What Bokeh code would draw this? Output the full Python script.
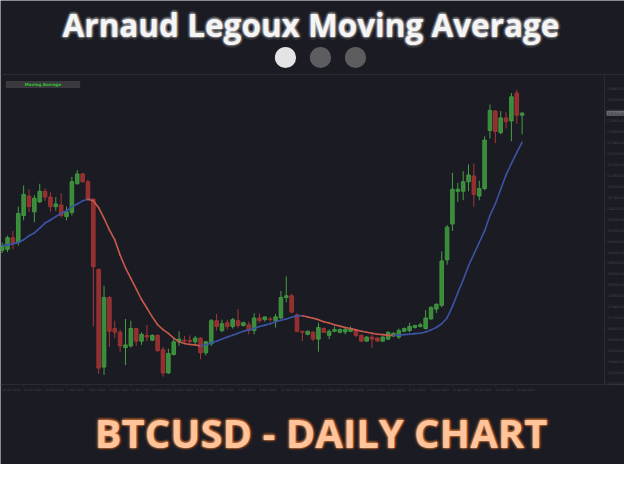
import numpy as np
import pandas as pd
from bokeh.plotting import figure
from bokeh.models import Range1d, Label
from bokeh.embed import file_html
from bokeh.resources import INLINE
from bokeh.core.properties import value

# ---------------- data ----------------
title_text = "Arnaud Legoux Moving Average"
subtitle_text = "BTCUSD - DAILY CHART"
indicator_name = "Moving Average"
start_date = "2022-10-22"

opens = [19190, 19220, 19560, 19420, 20210, 20780, 20320, 20610, 20920, 20750,
         20470, 20520, 20180, 20300, 21140, 21430, 21200, 20690, 18630, 15770,
         17810, 16900, 16790, 16340, 16390, 16900, 16530, 16700, 16560, 16700,
         16280, 15600, 16140, 16510, 16560, 16550, 16510, 16620, 16190, 16450,
         17130, 16840, 17070, 16960, 17130, 16990, 17010, 16840, 17210, 17160,
         17180, 17130, 17210, 17810, 17860, 17300, 16820, 16730, 16790, 16590,
         16900, 16700, 16820, 16790, 16800, 16820, 16840, 16700, 16530, 16650,
         16620, 16530, 16590, 16680, 16650, 16820, 16840, 16930, 16960, 16900,
         17180, 17470, 17580, 18910, 19960, 20920, 20920, 21200, 21370, 20780,
         21000, 22700, 23270, 22640, 23070, 22980, 23800, 23150]
highs = [19420, 19620, 19760, 20470, 21090, 20980, 20810, 21140, 21000, 20890,
         20750, 20860, 20470, 21340, 21540, 21460, 21260, 20720, 18660, 18150,
         17850, 17130, 16870, 17180, 17130, 16920, 16790, 17010, 16730, 16730,
         16360, 16310, 16620, 16820, 16680, 16700, 16680, 16640, 16530, 17180,
         17330, 17160, 17160, 17210, 17470, 17100, 17100, 17350, 17350, 17250,
         17240, 17330, 18000, 18430, 17920, 17350, 16830, 16840, 16820, 17070,
         16930, 16870, 16960, 16900, 16930, 16960, 16870, 16730, 16680, 16730,
         16650, 16680, 16820, 16790, 16900, 16930, 17070, 17010, 17070, 17440,
         17550, 17640, 19160, 19930, 21460, 21170, 21510, 21710, 21740, 21230,
         22530, 23460, 23300, 23270, 23240, 23800, 23890, 23240]
lows = [19110, 19140, 19220, 19330, 20070, 20320, 20010, 20580, 20640, 20320,
        20350, 20150, 20070, 20210, 21120, 21170, 20640, 16960, 15570, 15540,
        16360, 16620, 16220, 15830, 16340, 16390, 16420, 16530, 16530, 16220,
        15490, 15570, 16110, 16390, 16480, 16450, 16450, 16000, 16110, 16390,
        16840, 16790, 16870, 16900, 16930, 16960, 16730, 16730, 17070, 17100,
        17100, 16930, 17180, 17670, 17350, 16790, 16530, 16700, 16530, 16220,
        16770, 16590, 16790, 16760, 16730, 16790, 16650, 16510, 16510, 16340,
        16510, 16510, 16560, 16650, 16590, 16790, 16790, 16900, 16930, 16870,
        17160, 17350, 17520, 18770, 19760, 20610, 20660, 20920, 20470, 20660,
        20950, 22470, 22330, 22590, 22760, 22390, 22900, 22590]
closes = [19330, 19560, 19420, 20270, 20830, 20470, 20720, 20920, 20750, 20470,
          20550, 20210, 20320, 21200, 21430, 21200, 20690, 18710, 15740, 17810,
          16820, 16790, 16390, 16420, 16900, 16530, 16730, 16650, 16700, 16250,
          15600, 16170, 16510, 16590, 16530, 16520, 16620, 16190, 16510, 17130,
          16960, 17040, 16960, 17160, 16990, 17070, 16840, 17210, 17130, 17240,
          17160, 17240, 17810, 17860, 17380, 16820, 16790, 16820, 16590, 16930,
          16790, 16820, 16870, 16870, 16880, 16900, 16700, 16530, 16650, 16590,
          16530, 16650, 16790, 16760, 16840, 16900, 16960, 16990, 17010, 17210,
          17520, 17610, 18880, 19870, 20980, 20980, 21200, 21400, 20830, 21000,
          22420, 23290, 22670, 23070, 22960, 23690, 23150, 23210]
alma = [19330, 19350, 19380, 19420, 19500, 19620, 19700, 19840, 19990, 20080,
        20180, 20270, 20350, 20470, 20550, 20640, 20690, 20640, 20440, 20130,
        19790, 19500, 19050, 18680, 18370, 18060, 17750, 17500, 17240, 17010,
        16870, 16760, 16620, 16510, 16460, 16430, 16420, 16390, 16420, 16480,
        16530, 16590, 16650, 16700, 16760, 16820, 16860, 16900, 16960, 17000,
        17040, 17100, 17140, 17180, 17230, 17270, 17275, 17240, 17200, 17160,
        17100, 17060, 17010, 16970, 16930, 16900, 16860, 16820, 16790, 16760,
        16730, 16720, 16700, 16695, 16705, 16720, 16730, 16750, 16760, 16800,
        16860, 16930, 17040, 17210, 17550, 17950, 18320, 18740, 19080, 19420,
        19760, 20210, 20550, 20980, 21400, 21740, 22050, 22360]
price_ticks = [15300, 15620, 15940, 16260, 16580, 16900, 17220, 17540, 17860,
               18180, 18500, 18820, 19140, 19460, 19780, 20100, 20420, 20740,
               21060, 21380, 21700, 22020, 22340, 22660, 22980, 23300, 23620, 23940]
date_tick_step = 4
dot_colors = ["#e4e4e4", "#5d5d5f", "#5d5d5f"]

# ---------------- layout constants (pixels) ----------------
W, H = 624, 464
PANE_TOP, PANE_BOTTOM, PANE_RIGHT = 74, 384, 604
PRICE_TOP, PRICE_BOTTOM = 24342, 15260
FIRST_BAR_PX, PX_PER_BAR = 1.7, 5.36
MID = 0.37   # baseline sits this many font-sizes below a "middle" anchor

BG = "#1b1b23"
AXC = "#2b2b35"
LBL = "#45454f"
UP, DN = "#3a8c3a", "#93302f"
UP_L, DN_L = "#45a045", "#a83636"
ALMA_UP, ALMA_DN = "#3b54a6", "#c85a4c"

idx = np.arange(len(closes))
dates = pd.date_range(start_date, periods=len(closes), freq="D")
date_ticks = list(range(0, len(closes), date_tick_step))
date_text = [f"{dates[i].day} {dates[i].strftime('%b %Y')}" for i in date_ticks]

# data ranges laid over the whole canvas
ppp = (PRICE_TOP - PRICE_BOTTOM) / (PANE_BOTTOM - PANE_TOP)
y_start = PRICE_BOTTOM - (H - PANE_BOTTOM) * ppp
y_end = PRICE_TOP + PANE_TOP * ppp
x_start = -FIRST_BAR_PX / PX_PER_BAR
x_end = x_start + W / PX_PER_BAR

p = figure(width=W, height=H, x_range=Range1d(x_start, x_end), y_range=Range1d(y_start, y_end),
           x_axis_location=None, y_axis_location=None, min_border=0,
           output_backend="svg", toolbar_location=None)
p.background_fill_color = BG
p.border_fill_color = BG
p.outline_line_color = None
p.grid.visible = False
p.extra_x_ranges = {"px": Range1d(0, W)}
p.extra_y_ranges = {"py": Range1d(H, 0)}

# pane frame lines
p.segment(x0=[0, PANE_RIGHT, 0], y0=[PANE_TOP, PANE_TOP, PANE_BOTTOM],
          x1=[W, PANE_RIGHT, W], y1=[PANE_TOP, PANE_BOTTOM, PANE_BOTTOM],
          x_range_name="px", y_range_name="py", line_color=AXC, line_width=1)

# candles
up = [c >= o for o, c in zip(opens, closes)]
wick_col = [UP_L if u else DN_L for u in up]
body_fill = [UP if u else DN for u in up]
p.segment(x0=idx, y0=lows, x1=idx, y1=highs, line_color=wick_col, line_width=1)
p.vbar(x=idx, width=0.68, top=[max(o, c) for o, c in zip(opens, closes)],
       bottom=[min(o, c) for o, c in zip(opens, closes)],
       fill_color=body_fill, line_color=wick_col, line_width=0.8)

# ALMA line: blue while rising, red while falling
seg_col = [ALMA_UP if alma[i + 1] >= alma[i] else ALMA_DN for i in range(len(alma) - 1)]
p.segment(x0=idx[:-1], y0=alma[:-1], x1=idx[1:], y1=alma[1:],
          line_color=seg_col, line_width=1.6, line_cap="round")

# bottom (date) axis: ticks + labels
n = len(date_ticks)
p.segment(x0=date_ticks, x1=date_ticks, y0=[PANE_BOTTOM] * n, y1=[PANE_BOTTOM + 2] * n,
          y_range_name="py", line_color=AXC)
p.text(x=date_ticks, y=[PANE_BOTTOM + 5] * n, text=date_text, y_range_name="py",
       text_font=value("DejaVu Sans"), text_font_size="3px", text_color=LBL,
       text_align="left", text_baseline="middle")

# right (price) axis: ticks + labels
m = len(price_ticks)
p.segment(x0=[PANE_RIGHT] * m, x1=[PANE_RIGHT + 2] * m, y0=price_ticks, y1=price_ticks,
          x_range_name="px", line_color=AXC)
p.text(x=[PANE_RIGHT + 3] * m, y=price_ticks, text=[f"{t:.2f}" for t in price_ticks],
       x_range_name="px", text_font=value("DejaVu Sans"), text_font_size="3.5px",
       text_color=LBL, text_align="left", text_baseline="middle")

# current price tag
p.add_layout(Label(x=PANE_RIGHT + 2, y=closes[-1], x_units="screen", text=f"{closes[-1]:.2f}",
                   text_font_size="3.5px", text_color="#1b1b23", text_font="DejaVu Sans",
                   text_align="left", text_baseline="middle",
                   background_fill_color="#6a6a70", padding=1))

# indicator tag (top-left of pane)
p.add_layout(Label(x=42.5, y=H - 84, x_units="screen", y_units="screen",
                   text=indicator_name, text_font_size="4px", text_color="#33c433",
                   text_font_style="bold", text_font="DejaVu Sans", text_align="center",
                   text_baseline="middle", background_fill_color="#3a3a3e",
                   padding=dict(left=19, right=19, top=1, bottom=1)))


def glow_text(x, baseline, txt, size, color, glow, a_in, a_out):
    y = baseline - MID * size
    ang = np.linspace(0, 2 * np.pi, 16, endpoint=False)
    ox = list(np.cos(ang) * 1.5) + list(np.cos(ang) * 3.0)
    oy = list(np.sin(ang) * 1.5) + list(np.sin(ang) * 3.0)
    al = [a_in] * 16 + [a_out] * 16
    k = len(ox)
    p.text(x=[x] * k, y=[y] * k, text=[txt] * k, x_offset=ox, y_offset=oy, text_alpha=al,
           x_range_name="px", y_range_name="py", text_color=glow,
           text_font=value("Open Sans"), text_font_style="bold", text_font_size=f"{size}px",
           text_align="center", text_baseline="middle")
    p.text(x=[x], y=[y], text=[txt], x_range_name="px", y_range_name="py", text_color=color,
           text_font=value("Open Sans"), text_font_style="bold", text_font_size=f"{size}px",
           text_align="center", text_baseline="middle")


glow_text(310.5, 35.5, title_text, 31.5, "#f5f5f5", "#ffffff", 0.08, 0.04)
glow_text(320.5, 446.5, subtitle_text, 40, "#ffc49c", "#ff8a3a", 0.10, 0.05)

# page indicator dots
p.circle(x=[285, 320, 355], y=[57, 57, 57], radius=10.6, x_range_name="px", y_range_name="py",
         fill_color=dot_colors, line_color=None)

open("out.html", "w").write(file_html(p, INLINE))
